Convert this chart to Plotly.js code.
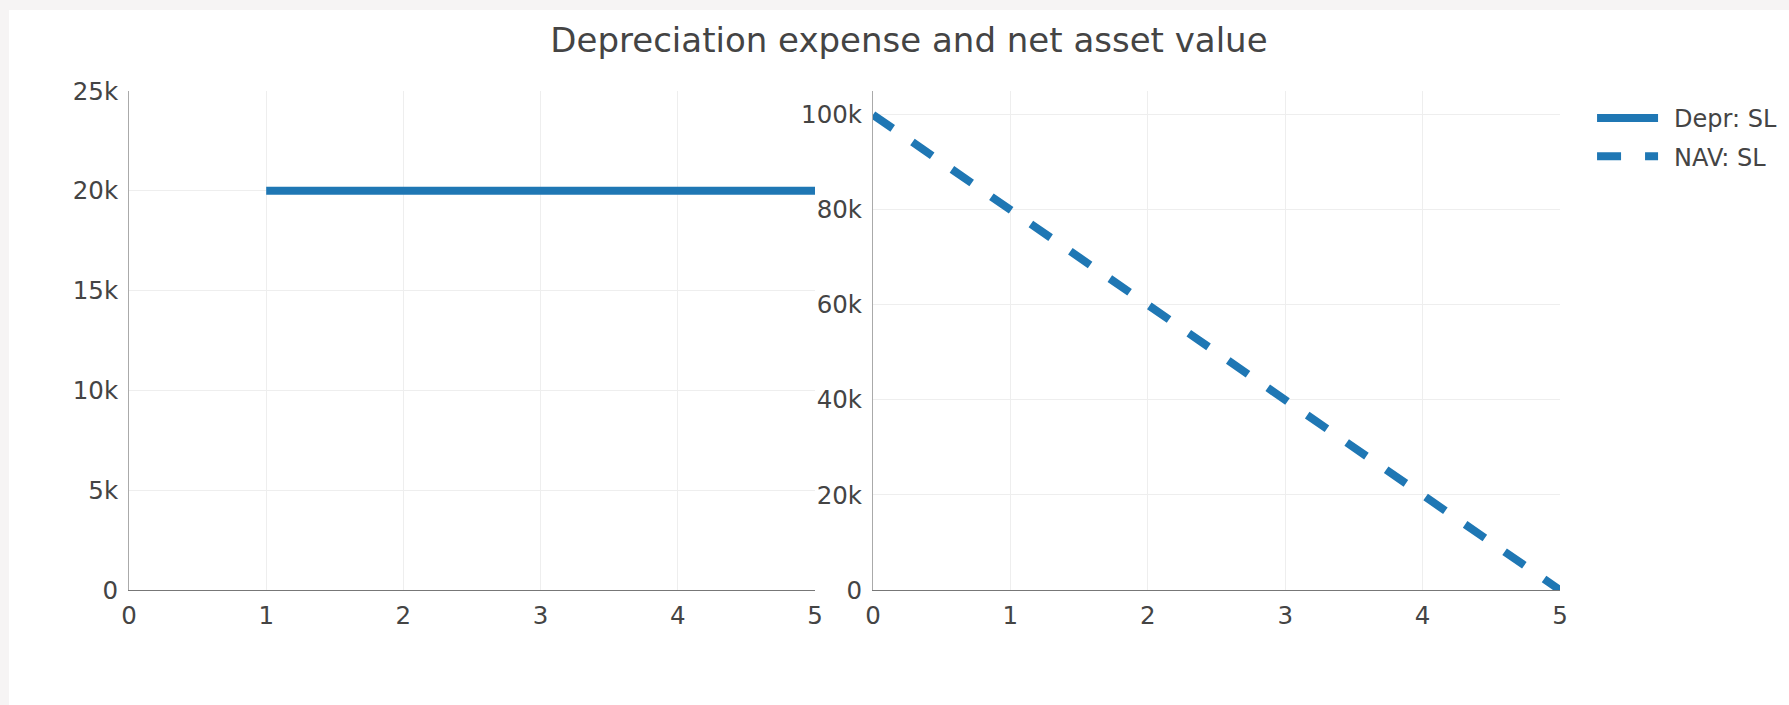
<!DOCTYPE html>
<html>
<head>
<meta charset="utf-8">
<script src="https://cdn.plot.ly/plotly-3.0.1.min.js"></script>
<style>
  html, body { margin: 0; padding: 0; background: #f6f4f4; overflow: hidden; }
  #chart { position: absolute; left: 9px; top: 10px; width: 1780px; height: 695px; background: #fff; }
</style>
</head>
<body>
<div id="chart"></div>
<script>
const deprYears = [1, 2, 3, 4, 5];
const deprValues = [20000, 20000, 20000, 20000, 20000];
const navYears = [0, 1, 2, 3, 4, 5];
const navValues = [100000, 80000, 60000, 40000, 20000, 0];
const chartTitle = "Depreciation expense and net asset value";
const deprName = "Depr: SL";
const navName = "NAV: SL";

const blue = "#1f77b4";
const traces = [
  { x: deprYears, y: deprValues, name: deprName, mode: "lines", type: "scatter", legendgroup: "a",
    line: { color: blue, width: 8 }, xaxis: "x", yaxis: "y" },
  { x: navYears, y: navValues, name: navName, mode: "lines", type: "scatter", legendgroup: "b",
    line: { color: blue, width: 8, dash: "dash" }, xaxis: "x2", yaxis: "y2" }
];

const fontFamily = '"DejaVu Sans", verdana, arial, sans-serif';
const tickFont = { family: fontFamily, size: 24.5, color: "#444" };
const xCommon = { range: [0, 5], dtick: 1, tick0: 0, showgrid: true, gridcolor: "#eeeeee",
  zeroline: false, showline: true, linecolor: "#777", linewidth: 1, tickfont: tickFont,
  ticklabelstandoff: 4 };
const yCommon = { showgrid: true, gridcolor: "#eeeeee", zeroline: false, showline: true,
  linecolor: "#aaa", linewidth: 1, tickfont: tickFont, ticklabelstandoff: 5 };

const layout = {
  width: 1780, height: 695,
  margin: { l: 120, r: 229, t: 81, b: 115, autoexpand: false },
  paper_bgcolor: "#fff", plot_bgcolor: "#fff",
  font: { family: fontFamily, color: "#444", size: 24 },
  title: { text: chartTitle, font: { family: fontFamily, size: 34, color: "#444" }, x: 0.5056, y: 0.957, yanchor: "middle" },
  showlegend: true,
  legend: { x: 1.0224, y: 0.99, font: { family: fontFamily, size: 24 }, itemwidth: 72,
            traceorder: "grouped", tracegroupgap: 4 },
  xaxis: Object.assign({}, xCommon, { domain: [0, 0.4794], anchor: "y" }),
  yaxis: Object.assign({}, yCommon, { range: [0, 25000], dtick: 5000, anchor: "x" }),
  xaxis2: Object.assign({}, xCommon, { domain: [0.5199, 1], anchor: "y2" }),
  yaxis2: Object.assign({}, yCommon, { range: [0, 105000], dtick: 20000, anchor: "x2" })
};

Plotly.newPlot("chart", traces, layout, { displayModeBar: false, staticPlot: true }).then(function (gd) {
  gd.querySelectorAll(".legend .legendlines path").forEach(function (p) {
    p.setAttribute("d", "M5,0h61");
  });
});
</script>
</body>
</html>
